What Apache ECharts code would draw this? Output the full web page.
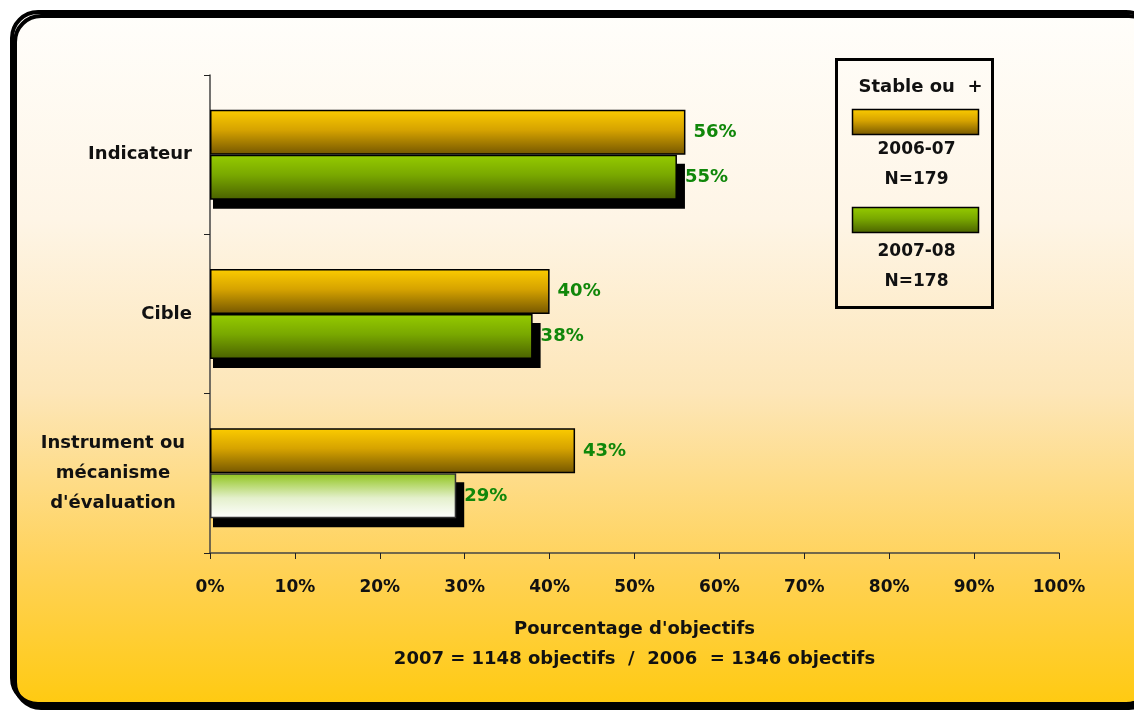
<!DOCTYPE html>
<html>
<head>
<meta charset="utf-8">
<title>Stable ou +</title>
<script src="https://cdn.jsdelivr.net/npm/echarts@6/dist/echarts.min.js"></script>
<style>
  html, body { margin: 0; padding: 0; background: #fff; }
  #chart { width: 1134px; height: 712px; }
</style>
</head>
<body>
<div id="chart"></div>
<script>
// data
const categories = ['Indicateur', 'Cible', 'Instrument ou\nmécanisme\nd\'évaluation'];
const seriesNames = ['2006-07', '2007-08'];
const seriesN = ['N=179', 'N=178'];
const values0607 = [0.56, 0.40, 0.43];
const values0708 = [0.55, 0.38, 0.29];
const xTicks = [0, 0.1, 0.2, 0.3, 0.4, 0.5, 0.6, 0.7, 0.8, 0.9, 1];
const legendTitle = 'Stable ou  +';
const axisTitle = 'Pourcentage d\'objectifs';
const axisNote = '2007 = 1148 objectifs  /  2006  = 1346 objectifs';

const FONT = '"DejaVu Sans", "Liberation Sans", Arial, sans-serif';
const BAR_W = 45;

const orangeGrad = new echarts.graphic.LinearGradient(0, 0, 0, 1, [
  { offset: 0, color: '#fccc00' },
  { offset: 0.45, color: '#d6a300' },
  { offset: 1, color: '#745600' },
]);
const greenGrad = new echarts.graphic.LinearGradient(0, 0, 0, 1, [
  { offset: 0, color: '#96cc00' },
  { offset: 0.45, color: '#79a800' },
  { offset: 1, color: '#4a6100' },
]);
const paleGreenGrad = new echarts.graphic.LinearGradient(0, 0, 0, 1, [
  { offset: 0, color: '#8fc41a' },
  { offset: 0.55, color: '#e4f0cc' },
  { offset: 1, color: '#ffffff' },
]);

const chartDom = document.getElementById('chart');
const myChart = echarts.init(chartDom);

const labelStyle = {
  show: true,
  position: 'right',
  distance: 8,
  color: '#10870a',
  fontFamily: FONT,
  fontWeight: 'bold',
  fontSize: 18,
  formatter: (p) => Math.round(p.value * 100) + '%',
};

const legendX = 835;
const legendY = 58;

// black drop shadow behind the 2007-08 bars
function renderShadow(params, api) {
  const c = api.value(1);
  const p0 = api.coord([0, c]);
  const p1 = api.coord([api.value(0), c]);
  return {
    type: 'rect',
    shape: {
      x: p0[0] + 3,
      y: p0[1] + 9,
      width: p1[0] - p0[0] + 5,
      height: BAR_W,
    },
    style: { fill: '#000' },
  };
}

const option = {
  animation: false,
  graphic: [
    {
      type: 'rect',
      z: -10,
      silent: true,
      shape: { x: 12, y: 12, width: 1140, height: 692, r: 26 },
      style: {
        fill: new echarts.graphic.LinearGradient(0, 0, 0, 1, [
          { offset: 0, color: '#fffefb' },
          { offset: 0.3, color: '#fef5e6' },
          { offset: 0.55, color: '#fde6b8' },
          { offset: 0.8, color: '#ffd258' },
          { offset: 1, color: '#ffca10' },
        ]),
        stroke: '#000',
        lineWidth: 4,
        shadowColor: '#000',
        shadowOffsetX: 3,
        shadowOffsetY: 4,
        shadowBlur: 0,
      },
    },
    {
      type: 'group',
      left: legendX,
      top: legendY,
      children: [
        {
          type: 'rect',
          shape: { x: 0, y: 0, width: 156, height: 248 },
          style: { fill: 'transparent', stroke: '#000', lineWidth: 3 },
        },
        {
          type: 'text',
          x: 84, y: 28,
          style: {
            text: legendTitle, fill: '#111', font: 'bold 18px ' + FONT,
            align: 'center', verticalAlign: 'middle',
          },
        },
        {
          type: 'rect',
          shape: { x: 16, y: 50, width: 126, height: 25 },
          style: { fill: orangeGrad, stroke: '#000', lineWidth: 1.5 },
        },
        {
          type: 'text',
          x: 80, y: 75,
          style: {
            text: seriesNames[0] + '\n' + seriesN[0], fill: '#111', font: 'bold 17px ' + FONT,
            align: 'center', verticalAlign: 'top', lineHeight: 30,
          },
        },
        {
          type: 'rect',
          shape: { x: 16, y: 148, width: 126, height: 25 },
          style: { fill: greenGrad, stroke: '#000', lineWidth: 1.5 },
        },
        {
          type: 'text',
          x: 80, y: 177,
          style: {
            text: seriesNames[1] + '\n' + seriesN[1], fill: '#111', font: 'bold 17px ' + FONT,
            align: 'center', verticalAlign: 'top', lineHeight: 30,
          },
        },
      ],
    },
  ],
  grid: {
    left: 210,
    right: 75,
    top: 75,
    bottom: 159,
  },
  xAxis: {
    type: 'value',
    min: 0,
    max: 1,
    interval: 0.1,
    splitLine: { show: false },
    axisLine: { show: true, lineStyle: { color: '#444', width: 1.5 } },
    axisTick: { show: true, length: 6, lineStyle: { color: '#222' } },
    axisLabel: {
      margin: 26,
      color: '#111',
      fontFamily: FONT,
      fontWeight: 'bold',
      fontSize: 17,
      customValues: xTicks,
      formatter: (v) => Math.round(v * 100) + '%',
    },
    name: axisTitle + '\n' + axisNote,
    nameLocation: 'middle',
    nameGap: 61,
    nameTextStyle: {
      color: '#111',
      fontFamily: FONT,
      fontWeight: 'bold',
      fontSize: 18,
      lineHeight: 30,
    },
  },
  yAxis: {
    type: 'category',
    data: categories,
    inverse: true,
    axisLine: { show: true, lineStyle: { color: '#444', width: 1.5 } },
    axisTick: { show: true, length: 6, lineStyle: { color: '#222' } },
    axisLabel: {
      margin: 18,
      color: '#111',
      fontFamily: FONT,
      fontWeight: 'bold',
      fontSize: 18,
      lineHeight: 30,
      formatter: (v) => {
        if (v.indexOf('\n') < 0) return v;
        return v.split('\n').map((l) => '{c|' + l + '}').join('\n');
      },
      rich: {
        c: {
          width: 158,
          align: 'center',
          color: '#111',
          fontFamily: FONT,
          fontWeight: 'bold',
          fontSize: 18,
          lineHeight: 30,
        },
      },
    },
  },
  series: [
    {
      name: 'shadow',
      type: 'custom',
      z: 1,
      silent: true,
      renderItem: renderShadow,
      encode: { x: 0, y: 1 },
      data: values0708.map((v, i) => [v, i]),
    },
    {
      name: seriesNames[0],
      type: 'bar',
      z: 3,
      data: values0607,
      barWidth: BAR_W,
      barGap: '0%',
      itemStyle: { color: orangeGrad, borderColor: '#000', borderWidth: 1.5 },
      label: labelStyle,
    },
    {
      name: seriesNames[1],
      type: 'bar',
      z: 3,
      barWidth: BAR_W,
      barGap: '0%',
      data: values0708.map((v, i) => (i === 2
        ? { value: v, itemStyle: { color: paleGreenGrad, borderColor: '#333' } }
        : v)),
      itemStyle: {
        color: greenGrad,
        borderColor: '#000',
        borderWidth: 1.5,
      },
      label: labelStyle,
    },
  ],
};

myChart.setOption(option);
</script>
</body>
</html>
